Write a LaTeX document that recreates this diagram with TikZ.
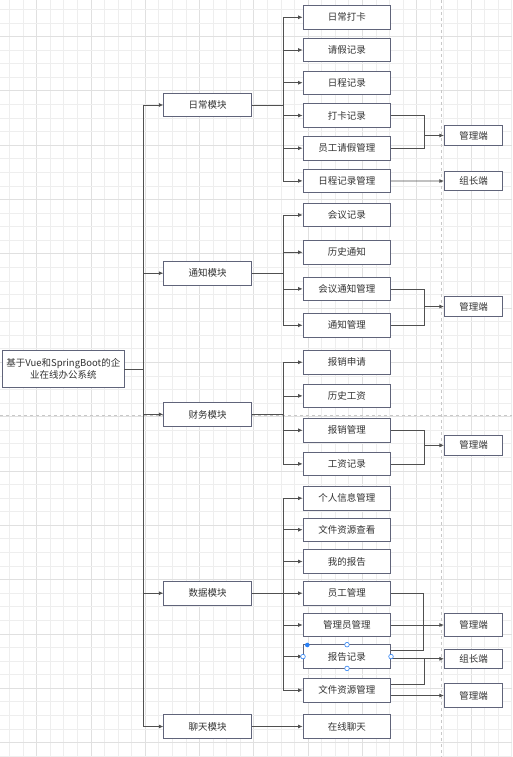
\documentclass[tikz,border=0pt]{standalone}
\usepackage{fontspec}
\setmainfont{Noto Sans CJK SC}
\usetikzlibrary{arrows.meta,calc}
\definecolor{gridminor}{RGB}{238,238,238}
\definecolor{gridmajor}{RGB}{224,224,224}
\definecolor{pagebrk}{RGB}{200,200,200}
\definecolor{boxline}{RGB}{96,100,122}
\definecolor{conn}{RGB}{80,80,80}
\definecolor{txt}{RGB}{51,51,51}
\definecolor{selblue}{RGB}{41,128,246}
\begin{document}
\begin{tikzpicture}[x=1pt,y=-1pt,
  box/.style={draw=boxline,line width=0.8pt,fill=white,text=txt,inner sep=0pt,
    font=\fontsize{9.5}{12.3}\selectfont,align=center},
  lone/.style={box,minimum width=88pt,minimum height=23.5pt},
  ltwo/.style={box,minimum width=87.7pt,minimum height=23.5pt},
  lend/.style={box,minimum width=58.4pt},
  ln/.style={draw=conn,line width=0.7pt},
  arr/.style={ln,-{Latex[length=4.5pt,width=4pt]}},
  hdl/.style={circle,draw=selblue,fill=white,line width=0.6pt,minimum size=4.6pt,inner sep=0pt}]
\useasboundingbox (0,0) rectangle (512,757);
\fill[white] (0,0) rectangle (512,757);
% grid
\foreach \k in {0,...,37}{
  \pgfmathsetmacro{\gx}{9.3+13.575*\k}
  \pgfmathtruncatemacro{\mj}{mod(\k+2,4)}
  \ifnum\mj=0 \draw[gridmajor,line width=0.5pt] (\gx,0) -- (\gx,757);
  \else \draw[gridminor,line width=0.5pt] (\gx,0) -- (\gx,757); \fi}
\foreach \k in {0,...,55}{
  \pgfmathsetmacro{\gy}{9.3+13.575*\k}
  \pgfmathtruncatemacro{\mj}{mod(\k+2,4)}
  \ifnum\mj=0 \draw[gridmajor,line width=0.5pt] (0,\gy) -- (512,\gy);
  \else \draw[gridminor,line width=0.5pt] (0,\gy) -- (512,\gy); \fi}
\draw[pagebrk,dashed,line width=0.5pt] (441.7,0) -- (441.7,757);
\draw[pagebrk,dashed,line width=0.5pt] (0,415) -- (512,415);

% root
\node[box,minimum width=121.3pt,minimum height=36.3pt] (root) at (63.35,368.85)
  {基于Vue和SpringBoot的企\\业在线办公系统};
% level 1
\node[lone] (m1) at (207.7,105) {日常模块};
\node[lone] (m2) at (207.7,273.2) {通知模块};
\node[lone] (m3) at (207.7,414.4) {财务模块};
\node[lone] (m4) at (207.7,593.2) {数据模块};
\node[lone] (m5) at (207.7,726.5) {聊天模块};
% level 2 - daily
\node[ltwo] (a1) at (346.85,17.3) {日常打卡};
\node[ltwo] (a2) at (346.85,50) {请假记录};
\node[ltwo] (a3) at (346.85,82.7) {日程记录};
\node[ltwo] (a4) at (346.85,115.5) {打卡记录};
\node[ltwo] (a5) at (346.85,148.2) {员工请假管理};
\node[ltwo] (a6) at (346.85,180.9) {日程记录管理};
% notice
\node[ltwo] (b1) at (346.85,215) {会议记录};
\node[ltwo] (b2) at (346.85,252.3) {历史通知};
\node[ltwo] (b3) at (346.85,288.9) {会议通知管理};
\node[ltwo] (b4) at (346.85,325.3) {通知管理};
% finance
\node[ltwo] (c1) at (346.85,362.2) {报销申请};
\node[ltwo] (c2) at (346.85,395.9) {历史工资};
\node[ltwo] (c3) at (346.85,430.3) {报销管理};
\node[ltwo] (c4) at (346.85,463.9) {工资记录};
% data
\node[ltwo] (d1) at (346.85,498.2) {个人信息管理};
\node[ltwo] (d2) at (346.85,529.7) {文件资源查看};
\node[ltwo] (d3) at (346.85,561.5) {我的报告};
\node[ltwo] (d4) at (346.85,593.2) {员工管理};
\node[ltwo] (d5) at (346.85,625) {管理员管理};
\node[ltwo] (d6) at (346.85,656.5) {报告记录};
\node[ltwo] (d7) at (346.85,690.2) {文件资源管理};
% chat
\node[ltwo] (e1) at (346.85,726.5) {在线聊天};
% right ends
\node[lend,minimum height=20.4pt] (r1) at (473.5,135.5) {管理端};
\node[lend,minimum height=19.4pt] (r2) at (473.5,181) {组长端};
\node[lend,minimum height=20.4pt] (r3) at (473.5,306.5) {管理端};
\node[lend,minimum height=20pt] (r4) at (473.5,445.3) {管理端};
\node[lend,minimum height=23.4pt] (r5) at (473.5,625) {管理端};
\node[lend,minimum height=19.4pt] (r6) at (473.5,658.8) {组长端};
\node[lend,minimum height=23.6pt] (r7) at (473.5,695.5) {管理端};

% trunk
\coordinate (t) at (143.3,368.85);
\draw[ln] (root.east) -- (t);
\draw[ln] (t|-m1) -- (t|-m5);
\foreach \m in {m1,m2,m3,m4,m5} \draw[arr] (t|-\m) -- (\m.west);

% branches
\coordinate (bx) at (283.3,0);
\draw[ln] (m1.east) -- (bx|-m1);
\draw[ln] (bx|-a1) -- (bx|-a6);
\foreach \n in {a1,a2,a3,a4,a5,a6} \draw[arr] (bx|-\n) -- (\n.west);
\draw[ln] (m2.east) -- (bx|-m2);
\draw[ln] (bx|-b1) -- (bx|-b4);
\foreach \n in {b1,b2,b3,b4} \draw[arr] (bx|-\n) -- (\n.west);
\draw[ln] (m3.east) -- (bx|-m3);
\draw[ln] (bx|-c1) -- (bx|-c4);
\foreach \n in {c1,c2,c3,c4} \draw[arr] (bx|-\n) -- (\n.west);
\draw[arr] (m4.east) -- (d4.west);
\draw[ln] (bx|-d1) -- (bx|-d7);
\foreach \n in {d1,d2,d3,d5,d6,d7} \draw[arr] (bx|-\n) -- (\n.west);
\draw[arr] (m5.east) -- (e1.west);

% right junctions
\coordinate (jx) at (424.3,0);
\draw[ln] (a4.east) -- (jx|-a4) -- (jx|-a5) -- (a5.east);
\draw[arr] (jx|-r1) -- (r1.west);
\draw[arr] (a6.east) -- (r2.west);
\draw[ln] (b3.east) -- (jx|-b3) -- (jx|-b4) -- (b4.east);
\draw[arr] (jx|-r3) -- (r3.west);
\draw[ln] (c3.east) -- (jx|-c3) -- (jx|-c4) -- (c4.east);
\draw[arr] (jx|-r4) -- (r4.west);
% data right side
\coordinate (jy) at (423.3,0);
\coordinate (d6u) at ($(d6.east)+(0,-5.9)$);
\draw[ln] (d4.east) -- (jy|-d4) -- (jy|-d6u) -- (d6u);
\draw[arr] (d5.east) -- (r5.west);
\draw[arr] (d6.east|-r6) -- (r6.west);
\coordinate (d7u) at ($(d7.east)+(0,-5.5)$);
\coordinate (d7d) at (d7.east|-r7);
\draw[ln] (d7u) -- (jx|-d7u) -- (jx|-r6);
\draw[arr] (d7d) -- (r7.west);

% selection handles on 报告记录
\node[hdl] (h1) at (347,644.7) {};
\node[hdl] (h2) at (303,656.6) {};
\node[hdl] (h3) at (391,656.6) {};
\node[hdl] (h4) at (347,668.4) {};
\node[circle,fill=selblue,minimum size=4.6pt,inner sep=0pt] (h0) at (307.3,645) {};
\end{tikzpicture}
\end{document}
